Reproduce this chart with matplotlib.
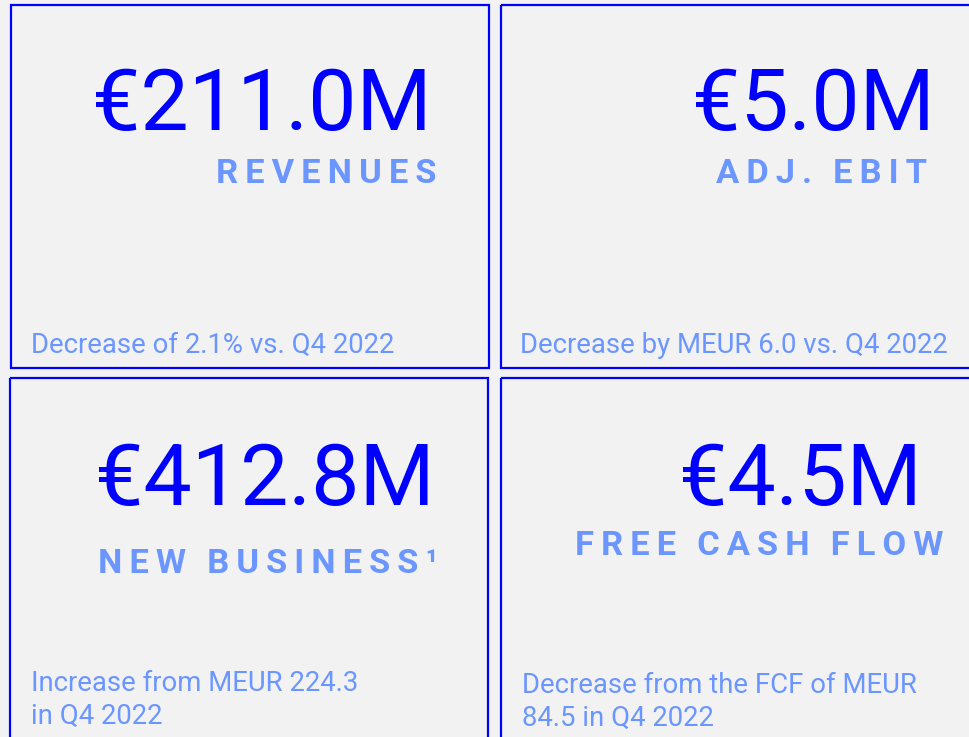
import matplotlib
matplotlib.use('Agg')
import matplotlib.pyplot as plt
from matplotlib.patches import Rectangle

# KPI cards, Q4 2023
values = ['€211.0M', '€5.0M', '€412.8M', '€4.5M']
labels = ['REVENUES', 'ADJ. EBIT', 'NEW BUSINESS¹', 'FREE CASH FLOW']
notes = ['Decrease of 2.1% vs. Q4 2022',
         'Decrease by MEUR 6.0 vs. Q4 2022',
         'Increase from MEUR 224.3\nin Q4 2022',
         'Decrease from the FCF of MEUR\n84.5 in Q4 2022']

# card boxes (x, y, w, h) in pixels and text anchors (last-line baseline for notes)
cards = [(11, 5, 478, 363), (501, 5, 490, 363), (10, 378, 478, 380), (501, 378, 490, 380)]
value_pos = [(432, 130), (935, 130), (435, 505), (922, 505)]
label_pos = [(437, 183), (927, 183), (438, 573), (944, 555)]
note_pos = [(31, 353), (520, 353), (31, 724), (522, 726)]

bg = '#f2f2f2'
blue = '#0000ff'
light = '#6b96ff'
fam = ['Roboto', 'DejaVu Sans']


W, H = 969, 737
fig = plt.figure(figsize=(W / 100, H / 100), dpi=100)
fig.patch.set_facecolor(bg)
ax = fig.add_axes([0, 0, 1, 1])
ax.set_xlim(0, W)
ax.set_ylim(H, 0)
ax.axis('off')
renderer = fig.canvas.get_renderer()


def track(s):
    # fake letter spacing with thin spaces
    words = ['\u2009'.join(w) for w in s.split(' ')]
    return '\u2009\u2009\u2009'.join(words)


def fit_size(s, target_w, **kw):
    t = ax.text(0, 0, s, fontsize=50, family=fam, **kw)
    w = t.get_window_extent(renderer).width
    t.remove()
    return 50 * target_w / w


fs_val = fit_size(values[0], 340, fontweight='normal')
fs_lab = fit_size(track(labels[0]), 220, fontweight='bold')
fs_note = fit_size(notes[0], 364, fontweight='normal')

for ii in range(len(cards)):
    x, y, w, h = cards[ii]
    ax.add_patch(Rectangle((x, y), w, h, facecolor='none', edgecolor=blue, linewidth=1.6))
    ax.text(value_pos[ii][0], value_pos[ii][1], values[ii], color=blue, fontsize=fs_val,
            family=fam, ha='right', va='baseline')
    ax.text(label_pos[ii][0], label_pos[ii][1], track(labels[ii]), color=light, fontsize=fs_lab,
            family=fam, fontweight='bold', ha='right', va='baseline')
    ax.text(note_pos[ii][0], note_pos[ii][1], notes[ii], color=light, fontsize=fs_note,
            family=fam, ha='left', va='baseline', linespacing=1.3)

fig.savefig('out.png', dpi=100, facecolor=bg)
